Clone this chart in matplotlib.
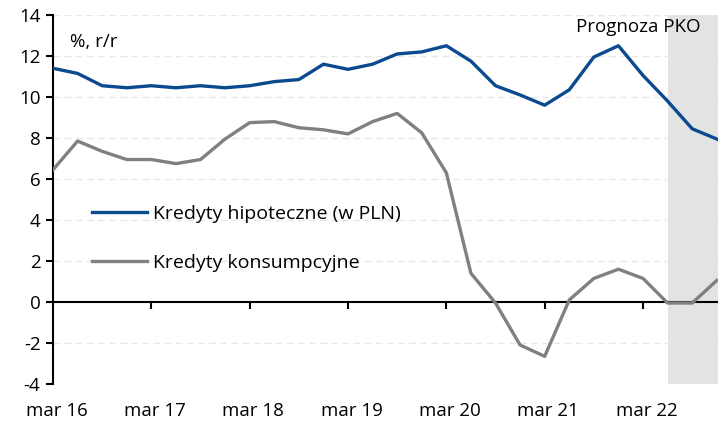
import matplotlib
matplotlib.use("Agg")
import matplotlib.pyplot as plt
import numpy as np

plt.rcParams['font.family'] = ['Open Sans', 'DejaVu Sans']
plt.rcParams['axes.unicode_minus'] = False

# kwartały: mar 16 ... gru 22
kwartaly = ['mar 16', 'cze 16', 'wrz 16', 'gru 16',
            'mar 17', 'cze 17', 'wrz 17', 'gru 17',
            'mar 18', 'cze 18', 'wrz 18', 'gru 18',
            'mar 19', 'cze 19', 'wrz 19', 'gru 19',
            'mar 20', 'cze 20', 'wrz 20', 'gru 20',
            'mar 21', 'cze 21', 'wrz 21', 'gru 21',
            'mar 22', 'cze 22', 'wrz 22', 'gru 22']

hipoteczne = [11.4, 11.15, 10.55, 10.45, 10.55, 10.45, 10.55, 10.45,
              10.55, 10.75, 10.85, 11.6, 11.35, 11.6, 12.1, 12.2,
              12.5, 11.75, 10.55, 10.1, 9.6, 10.35, 11.95, 12.5,
              11.05, 9.8, 8.45, 7.95]

konsumpcyjne = [6.45, 7.85, 7.35, 6.95, 6.95, 6.75, 6.95, 7.95,
                8.75, 8.8, 8.5, 8.4, 8.2, 8.8, 9.2, 8.25,
                6.3, 1.4, -0.05, -2.1, -2.65, 0.1, 1.15, 1.6,
                1.15, -0.05, -0.05, 1.05]

etykiety_x = ['mar 16', 'mar 17', 'mar 18', 'mar 19', 'mar 20', 'mar 21', 'mar 22']
start_prognozy = 25

x = np.arange(len(kwartaly))

fig = plt.figure(figsize=(7.18, 4.24), dpi=100)
ax = fig.add_axes([53/718, 40/424, 665/718, 369/424])

ax.axvspan(start_prognozy, len(kwartaly), color='#e3e3e3', lw=0, zorder=0)

for yy in range(-4, 15, 2):
    if yy != 0:
        ax.axhline(yy, color='#e8e8e8', lw=1, ls=(0, (5, 3)), zorder=1)
ax.axhline(0, color='black', lw=1.5, zorder=2)

ax.plot(x, hipoteczne, color='#0b4a8f', lw=2.4, label='Kredyty hipoteczne (w PLN)', zorder=3)
ax.plot(x, konsumpcyjne, color='#808080', lw=2.4, label='Kredyty konsumpcyjne', zorder=3)

ax.set_xlim(0, 27.05)
ax.set_ylim(-4, 14)
ax.set_yticks(range(-4, 15, 2))
ax.tick_params(axis='y', labelsize=13.5, length=5, width=1.5, direction='out', pad=4)

for s in ['top', 'right', 'bottom']:
    ax.spines[s].set_visible(False)
ax.spines['left'].set_linewidth(1.5)

pos_x = [kwartaly.index(e) for e in etykiety_x]
ax.set_xticks([p + 0.15 for p in pos_x])
ax.set_xticklabels(etykiety_x)
ax.tick_params(axis='x', labelsize=13.5, length=0, pad=13)

# kreski osi X na linii zera
sec = ax.secondary_xaxis(4/18)
sec.set_xticks(pos_x[1:])
sec.set_xticklabels([])
sec.tick_params(length=5, width=1.5, direction='out')
sec.spines['bottom'].set_visible(False)

ax.text(0.026, 0.927, '%, r/r', transform=ax.transAxes, fontsize=13.5, va='center')
ax.text(0.973, 0.967, 'Prognoza PKO', transform=ax.transAxes, fontsize=13.5,
        ha='right', va='center')

ax.legend(loc='upper left', bbox_to_anchor=(0.059, 0.485), frameon=False,
          fontsize=14, handlelength=2.8, labelspacing=1.6, borderpad=0,
          borderaxespad=0, handletextpad=0.3)

fig.savefig('out.png', dpi=100)
